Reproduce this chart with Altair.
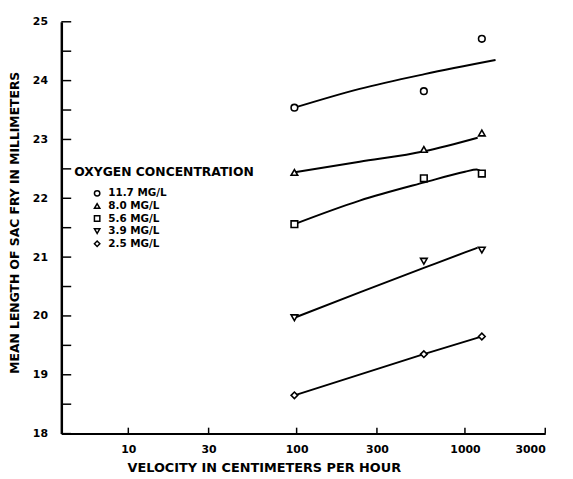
import altair as alt
import pandas as pd

# ---- data ----
series = ["11.7 MG/L", "8.0 MG/L", "5.6 MG/L", "3.9 MG/L", "2.5 MG/L"]
shapes = ["circle", "triangle-up", "square", "triangle-down", "diamond"]

obs_velocity = [97, 570, 1260]
obs_11_7 = [23.54, 23.82, 24.71]
obs_8_0 = [22.44, 22.83, 23.11]
obs_5_6 = [21.56, 22.34, 22.42]
obs_3_9 = [19.97, 20.93, 21.12]
obs_2_5 = [18.65, 19.35, 19.65]

fit_11_7_v = [97, 237, 575, 1520]
fit_11_7_y = [23.54, 23.86, 24.11, 24.35]
fit_8_0_v = [97, 237, 575, 1190]
fit_8_0_y = [22.44, 22.62, 22.80, 23.03]
fit_5_6_v = [97, 237, 575, 1000, 1175, 1260]
fit_5_6_y = [21.56, 21.96, 22.27, 22.45, 22.49, 22.45]
fit_3_9_v = [97, 237, 575, 1000, 1190]
fit_3_9_y = [19.97, 20.40, 20.82, 21.08, 21.16]
fit_2_5_v = [97, 570, 1260]
fit_2_5_y = [18.65, 19.35, 19.65]

x_ticks = [10, 30, 100, 300, 1000, 3000]
y_ticks = [18, 18.5, 19, 19.5, 20, 20.5, 21, 21.5, 22, 22.5, 23, 23.5, 24, 24.5, 25]

# ---- tables ----
obs_values = [obs_11_7, obs_8_0, obs_5_6, obs_3_9, obs_2_5]
obs_rows = []
for s, vals in zip(series, obs_values):
    for v, y in zip(obs_velocity, vals):
        obs_rows.append({"series": s, "velocity": v, "length": y})
obs_df = pd.DataFrame(obs_rows)

fits = [(fit_11_7_v, fit_11_7_y), (fit_8_0_v, fit_8_0_y), (fit_5_6_v, fit_5_6_y),
        (fit_3_9_v, fit_3_9_y), (fit_2_5_v, fit_2_5_y)]
fit_rows = []
for s, (vs, ys) in zip(series, fits):
    for i, (v, y) in enumerate(zip(vs, ys)):
        fit_rows.append({"series": s, "velocity": v, "length": y, "order": i})
fit_df = pd.DataFrame(fit_rows)

xtick_df = pd.DataFrame({"velocity": x_ticks})
ytick_df = pd.DataFrame({"length": y_ticks})

FONT = "DejaVu Sans"
W, H = 490, 417

x_scale = alt.Scale(type="log", domain=[4, 3000], nice=False)
y_scale = alt.Scale(domain=[18, 25], nice=False, zero=False)

x_axis = alt.Axis(
    values=x_ticks, format="d", title="VELOCITY IN CENTIMETERS PER HOUR",
    ticks=False, tickSize=0, grid=False,
    domainColor="black", domainWidth=2,
    labelPadding=10, labelFontSize=11, labelFont=FONT, labelFontWeight="bold",
    labelColor="black", labelAngle=0,
    titleFontSize=13, titleFont=FONT, titleFontWeight="bold", titleColor="black",
    titleX=205, titleY=34, titleAlign="center", titleBaseline="middle",
)
y_axis = alt.Axis(
    values=y_ticks, format="d",
    labelExpr="datum.value % 1 == 0 ? datum.label : ''",
    title="MEAN LENGTH OF SAC FRY IN MILLIMETERS",
    ticks=False, tickSize=0, grid=False,
    domainColor="black", domainWidth=2.5,
    labelPadding=14, labelFontSize=11, labelFont=FONT, labelFontWeight="bold",
    labelColor="black",
    titleFontSize=12.5, titleFont=FONT, titleFontWeight="bold", titleColor="black",
    titleAngle=270, titleX=-47, titleY=203, titleAlign="center", titleBaseline="middle",
)

lines = alt.Chart(fit_df).mark_line(
    color="black", strokeWidth=2, interpolate="monotone"
).encode(
    x=alt.X("velocity:Q", scale=x_scale, axis=x_axis),
    y=alt.Y("length:Q", scale=y_scale, axis=y_axis),
    detail="series:N",
    order="order:Q",
)

xticks = alt.Chart(xtick_df).mark_rule(color="black", strokeWidth=1.5).encode(
    x=alt.X("velocity:Q", scale=x_scale),
    y=alt.value(H), y2=alt.value(H - 6),
)
yticks = alt.Chart(ytick_df).mark_rule(color="black", strokeWidth=1.5).encode(
    y=alt.Y("length:Q", scale=y_scale),
    x=alt.value(0), x2=alt.value(10),
)

shape_scale = alt.Scale(domain=series, range=shapes)

masks = alt.Chart(obs_df).mark_point(
    filled=True, color="white", size=45, opacity=1
).encode(
    x=alt.X("velocity:Q", scale=x_scale),
    y=alt.Y("length:Q", scale=y_scale),
    shape=alt.Shape("series:N", scale=shape_scale, legend=None),
)

points = alt.Chart(obs_df).mark_point(
    filled=False, color="black", strokeWidth=1.6, size=45, opacity=1
).encode(
    x=alt.X("velocity:Q", scale=x_scale),
    y=alt.Y("length:Q", scale=y_scale),
    shape=alt.Shape(
        "series:N",
        scale=shape_scale,
        legend=alt.Legend(
            title="OXYGEN CONCENTRATION", orient="none", legendX=13, legendY=146,
            titleFontSize=12.5, titleFont=FONT, titleFontWeight="bold", titleColor="black",
            labelFontSize=10.5, labelFont=FONT, labelFontWeight="bold", labelColor="black",
            titlePadding=10, rowPadding=0.75, symbolOffset=18, labelOffset=6,
            symbolSize=30, symbolStrokeColor="black",
            symbolStrokeWidth=1.5, padding=0, titleLimit=400, labelLimit=200,
        ),
    ),
)

chart = alt.layer(lines, xticks, yticks, masks, points).resolve_legend(
    shape="independent"
).properties(
    width=W, height=H,
    autosize=alt.AutoSizeParams(type="none"),
    padding={"left": 54, "top": 11, "right": 20, "bottom": 42},
    background="white",
).configure_view(stroke=None)

chart.save("out.html", embed_options={"renderer": "svg", "actions": False})
